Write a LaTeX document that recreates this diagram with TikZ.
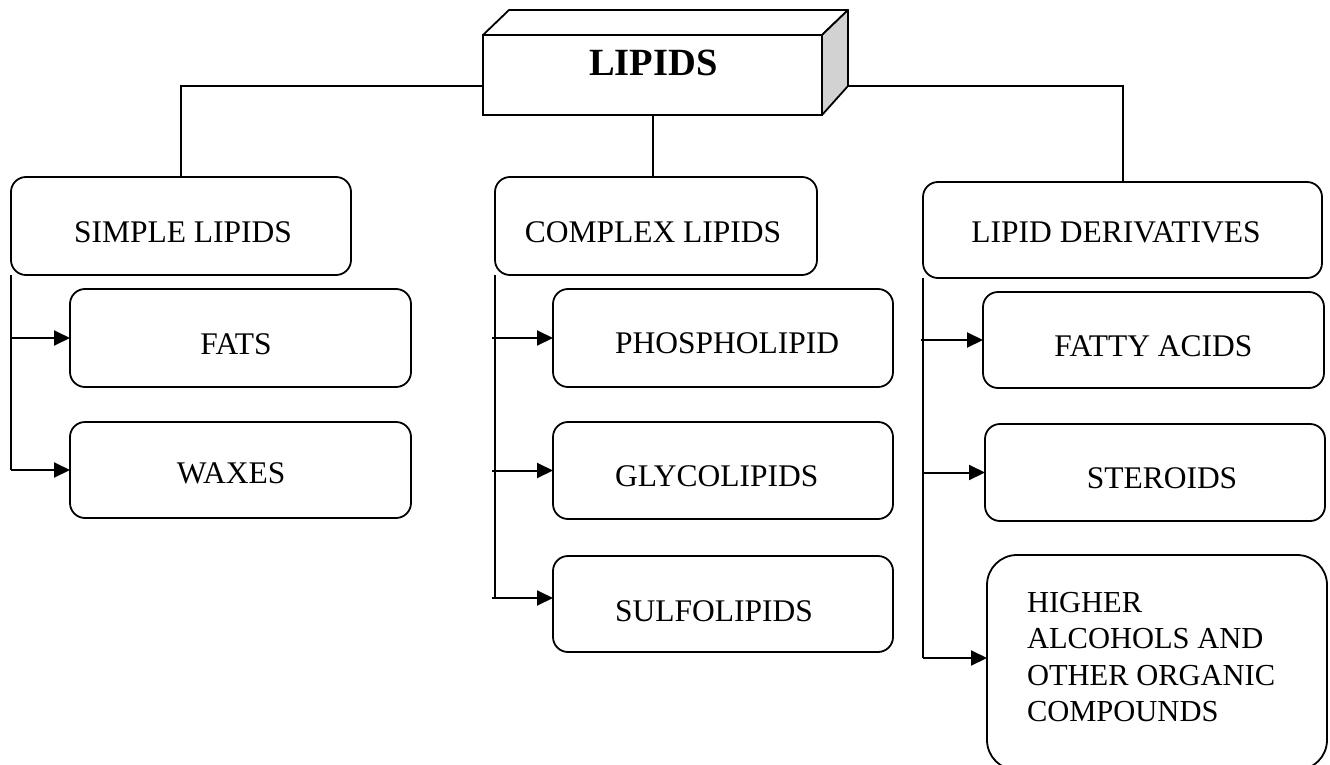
\documentclass[tikz,border=0pt]{standalone}
\usepackage{fontspec}
\setmainfont{Liberation Serif}
\usetikzlibrary{arrows.meta}
\begin{document}
\begin{tikzpicture}[x=1pt,y=-1pt,
  box/.style={draw, rounded corners=15pt, inner sep=0pt, outer sep=0pt, line width=1.8pt},
  txt/.style={inner sep=0pt, outer sep=0pt, font=\fontsize{31.5}{36.5}\selectfont},
  conn/.style={line width=2pt},
  arr/.style={line width=2pt, -{Triangle[length=16pt,width=15pt]}}]
\useasboundingbox (0,0) rectangle (1330,765);

% top 3D box
\node[draw, line width=1.8pt, minimum width=339pt, minimum height=80pt, inner sep=0pt, outer sep=0pt, fill=white] (lipids) at (652.5,75) {};
\draw[line width=1.8pt, line join=round] (lipids.north west) -- ++(26,-25) -- ++(339,0) -- (lipids.north east) -- cycle;
\draw[line width=1.8pt, line join=round, fill=gray!35] (lipids.north east) -- ++(26,-25) -- ++(0,76) -- (lipids.south east) -- cycle;
\node[inner sep=0pt, anchor=base, font=\bfseries\fontsize{38.5}{42}\selectfont] (lipidsT) at (653.5,76) {LIPIDS};

% level 1 boxes
\node[box, minimum width=340pt, minimum height=98pt] (simple) at (181,226) {};
\node[box, minimum width=322pt, minimum height=98pt] (complex) at (656,226) {};
\node[box, minimum width=399pt, minimum height=96pt] (lipdev) at (1122.5,230) {};
\node[txt, anchor=base] (simpleT) at (183,242) {SIMPLE LIPIDS};
\node[txt, anchor=base] (complexT) at (653,242) {COMPLEX LIPIDS};
\node[txt, anchor=base] (lipdevT) at (1116,242) {LIPID DERIVATIVES};

% simple lipids children
\node[box, minimum width=341pt, minimum height=98pt] (fats) at (240.5,338) {};
\node[box, minimum width=341pt, minimum height=96pt] (waxes) at (240.5,470) {};
\node[txt, anchor=base] (fatsT) at (236,354) {FATS};
\node[txt, anchor=base] (waxesT) at (231,483) {WAXES};

% complex lipids children
\node[box, minimum width=340pt, minimum height=98pt] (phos) at (723,338) {};
\node[box, minimum width=340pt, minimum height=97pt] (glyco) at (723,470.5) {};
\node[box, minimum width=340pt, minimum height=96pt] (sulfo) at (723,604) {};
\node[txt, anchor=base west] (phosT) at (615,353) {PHOSPHOLIPID};
\node[txt, anchor=base west] (glycoT) at (615,486) {GLYCOLIPIDS};
\node[txt, anchor=base west] (sulfoT) at (615,621) {SULFOLIPIDS};

% lipid derivatives children
\node[box, minimum width=341pt, minimum height=96pt] (fatty) at (1153.5,340) {};
\node[box, minimum width=340pt, minimum height=97pt] (ster) at (1155,472.5) {};
\node[box, rounded corners=30pt, minimum width=340pt, minimum height=215pt] (higher) at (1157,662.5) {};
\node[txt, anchor=base] (fattyT) at (1153.5,356) {FATTY ACIDS};
\node[txt, anchor=base] (sterT) at (1162,488) {STEROIDS};
\node[txt, anchor=base west, align=left, font=\fontsize{30.5}{36.5}\selectfont] (higherT) at (1027,721.5) {HIGHER\\ALCOHOLS AND\\OTHER ORGANIC\\COMPOUNDS};

% connectors from top
\draw[conn] ([yshift=-11pt]lipids.west) -| (simple.north);
\coordinate (rside) at (848,86);
\draw[conn] (rside) -| (lipdev.north);
\draw[conn] (lipids.south) -- (lipids.south |- complex.north);

% simple lipids
\draw[conn] (simple.south west) -- (simple.south west |- waxes.west);
\draw[arr] (simple.south west |- fats.west) -- (fats.west);
\draw[arr] (simple.south west |- waxes.west) -- (waxes.west);

% complex lipids
\coordinate (sin) at ([yshift=6pt]sulfo.west);
\draw[conn] (complex.south west) -- (complex.south west |- sin);
\draw[arr] ([xshift=-3pt]complex.south west |- phos.west) -- (phos.west);
\draw[arr] ([xshift=-3pt]complex.south west |- glyco.west) -- (glyco.west);
\draw[arr] ([xshift=-3pt]complex.south west |- sin) -- (sin);

% lipid derivatives
\coordinate (hin) at ([yshift=4.5pt]higher.west);
\draw[conn] (lipdev.south west) -- (lipdev.south west |- hin);
\draw[arr] ([xshift=-2pt]lipdev.south west |- fatty.west) -- (fatty.west);
\draw[arr] (lipdev.south west |- ster.west) -- (ster.west);
\draw[arr] (lipdev.south west |- hin) -- (hin);
\end{tikzpicture}
\end{document}
